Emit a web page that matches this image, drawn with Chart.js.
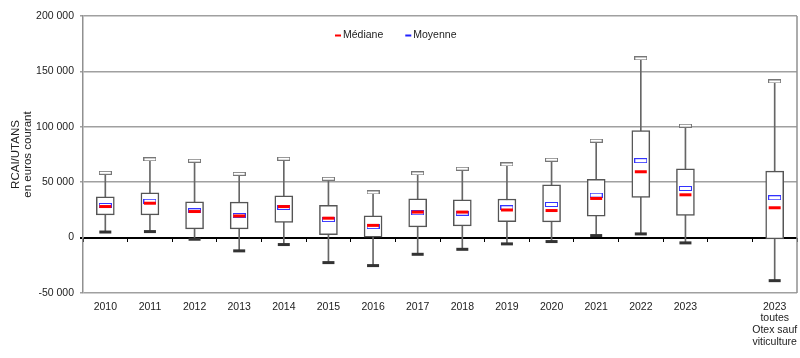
<!DOCTYPE html>
<html>
<head>
<meta charset="utf-8">
<script src="https://cdn.jsdelivr.net/npm/chart.js@4.4.0/dist/chart.umd.min.js"></script>
<style>
  html, body { margin: 0; padding: 0; background: #fff; }
  #wrap { width: 800px; height: 358px; }
</style>
</head>
<body>
<div id="wrap"><canvas id="c"></canvas></div>
<script>
// categories (index 14 is the empty gap before the last box)
const categories = ['2010', '2011', '2012', '2013', '2014', '2015', '2016', '2017', '2018', '2019',
  '2020', '2021', '2022', '2023', '', ['2023', 'toutes', 'Otex sauf', 'viticulture']];

const minimum = [5000, 5400, -1500, -12000, -6300, -22600, -25300, -15100, -10600, -5700,
  -3600, 1800, 3300, -4800, null, -38900];
const q1 = [20500, 20500, 7900, 7900, 13600, 2700, 300, 9700, 10600, 14300,
  14200, 19300, 36200, 19900, null, -1200];
const median = [28000, 31000, 23500, 19500, 28000, 17500, 11000, 23000, 23000, 24900,
  24400, 35300, 59400, 38600, null, 26900];
const mean = [29000, 32800, 24200, 19900, 27200, 16300, 9900, 22400, 22000, 26900,
  29900, 38300, 69400, 44300, null, 35900];
const q3 = [36700, 40400, 32300, 32000, 37700, 29000, 19600, 35000, 34100, 34800,
  47700, 52500, 96500, 62100, null, 60000];
const maximum = [58500, 70600, 69400, 57600, 71200, 53100, 40700, 57900, 62200, 66000,
  70300, 87500, 161700, 101000, null, 140900];

const yTicks = [-50000, 0, 50000, 100000, 150000, 200000];

const FONT = '"Liberation Sans", Arial, sans-serif';

// little rectangles used as point styles
function rectMark(w, h, stroke, fill) {
  const cv = document.createElement('canvas');
  cv.width = w; cv.height = h;
  const g = cv.getContext('2d');
  if (fill) { g.fillStyle = fill; g.fillRect(0, 0, w, h); }
  g.strokeStyle = stroke; g.lineWidth = 1;
  g.strokeRect(0.5, 0.5, w - 1, h - 1);
  return cv;
}
const capTop = rectMark(13, 4, '#777', '#fff');
const meanMark = rectMark(13, 5, '#3333ff', 'rgba(255,255,255,0.6)');

const fmt = v => String(v).replace(/\B(?=(\d{3})+(?!\d))/g, ' ');

// legend inside the plot + right frame line
const legendPlugin = {
  id: 'boxLegend',
  afterDraw(chart) {
    const {ctx, chartArea} = chart;
    ctx.save();
    ctx.strokeStyle = '#909090';
    ctx.lineWidth = 1.5;
    ctx.beginPath();
    ctx.moveTo(chartArea.right, chartArea.top);
    ctx.lineTo(chartArea.right, chartArea.bottom);
    ctx.stroke();

    const items = chart.data.datasets.filter(d => d.legendColor)
      .sort((a, b) => a.legendOrder - b.legendOrder);
    ctx.font = '10.5px ' + FONT;
    ctx.textBaseline = 'middle';
    let x = chartArea.left + 252;
    const y = chartArea.top + 19.5;
    items.forEach(d => {
      ctx.strokeStyle = d.legendColor;
      ctx.lineWidth = 2;
      ctx.beginPath();
      ctx.moveTo(x, y); ctx.lineTo(x + 6, y);
      ctx.stroke();
      ctx.fillStyle = '#222';
      ctx.fillText(d.label, x + 8, y);
      x += 8 + ctx.measureText(d.label).width + 22;
    });
    ctx.restore();
  }
};

new Chart(document.getElementById('c'), {
  type: 'bar',
  data: {
    labels: categories,
    datasets: [
      {
        label: 'Moustache',
        data: categories.map((_, i) => minimum[i] == null ? null : [minimum[i], maximum[i]]),
        backgroundColor: '#666',
        barThickness: 1,
        grouped: false,
        order: 5
      },
      {
        label: 'Boîte',
        data: categories.map((_, i) => q1[i] == null ? null : [q1[i], q3[i]]),
        backgroundColor: '#fff',
        borderColor: '#555',
        borderWidth: 1.5,
        borderSkipped: false,
        barThickness: 18,
        grouped: false,
        order: 4
      },
      {
        type: 'line',
        label: 'Max',
        data: maximum,
        showLine: false,
        pointStyle: capTop,
        order: 3
      },
      {
        type: 'line',
        label: 'Min',
        data: minimum,
        showLine: false,
        pointStyle: 'line',
        pointRadius: 6,
        pointBorderWidth: 3,
        pointBorderColor: '#333',
        order: 3
      },
      {
        type: 'line',
        label: 'Moyenne',
        data: mean,
        showLine: false,
        pointStyle: meanMark,
        legendColor: '#2222ff',
        legendOrder: 2,
        order: 2
      },
      {
        type: 'line',
        label: 'Médiane',
        data: median,
        showLine: false,
        pointStyle: 'line',
        pointRadius: 6,
        pointBorderWidth: 3,
        pointBorderColor: '#ff0000',
        legendColor: '#ff0000',
        legendOrder: 1,
        order: 1
      }
    ]
  },
  options: {
    responsive: true,
    maintainAspectRatio: false,
    animation: false,
    layout: { autoPadding: false, padding: { top: 16, right: 3, bottom: 10, left: 10 } },
    plugins: {
      legend: { display: false },
      tooltip: { enabled: false }
    },
    scales: {
      x: {
        offset: true,
        grid: { display: false },
        border: { display: false },
        ticks: {
          color: '#222',
          font: { family: FONT, size: 10.5, lineHeight: 1.12 },
          padding: 0,
          maxRotation: 0,
          autoSkip: false
        }
      },
      x2: {
        type: 'category',
        labels: categories,
        position: { y: 0 },
        offset: true,
        grid: { offset: true, drawOnChartArea: false, drawTicks: true, tickLength: 4, color: '#000', lineWidth: 1 },
        border: { display: false },
        ticks: { display: false }
      },
      y: {
        min: -50000,
        max: 200000,
        afterBuildTicks: axis => { axis.ticks = yTicks.map(v => ({ value: v })); },
        afterFit: axis => { axis.width = 73; },
        grid: {
          color: c => c.tick && c.tick.value === 0 ? '#000' : '#a0a0a0',
          lineWidth: c => c.tick && c.tick.value === 0 ? 2 : 1.5,
          tickLength: 3
        },
        border: { color: '#909090', width: 1.5 },
        ticks: {
          color: '#222',
          font: { family: FONT, size: 10.5 },
          padding: 6,
          callback: v => fmt(v)
        },
        title: {
          display: true,
          text: ['RCAI/UTANS', 'en euros courant'],
          color: '#222',
          font: { family: FONT, size: 11.5, lineHeight: 1.05 },
          padding: { top: 0, bottom: 4 }
        }
      }
    }
  },
  plugins: [legendPlugin]
});
</script>
</body>
</html>
